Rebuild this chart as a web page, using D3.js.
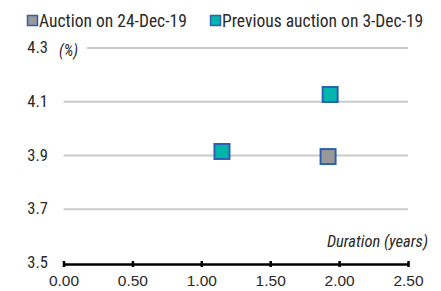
<!DOCTYPE html>
<html><head><meta charset="utf-8">
<script src="https://cdn.jsdelivr.net/npm/d3@7"></script>
<style>
body{margin:0;background:#fff;}
svg{display:block;font-family:"Liberation Sans Narrow","Arial Narrow","Roboto Condensed","Liberation Sans",sans-serif;}
</style></head>
<body>
<svg id="chart" width="441" height="291"></svg>
<script>
const seriesNames = ["Auction on 24-Dec-19", "Previous auction on 3-Dec-19"];
const seriesColors = ["#999999", "#00b5ad"];
const currentDuration = [1.92];
const currentYield = [3.896];
const previousDuration = [1.15, 1.935];
const previousYield = [3.915, 4.127];
const xTicks = [0, 0.5, 1.0, 1.5, 2.0, 2.5];
const yTicks = [3.5, 3.7, 3.9, 4.1, 4.3];

const textColor = "#2a2a2a";
const svg = d3.select("#chart");
const x = d3.scaleLinear().domain([0, 2.5]).range([63.5, 408]);
const y = d3.scaleLinear().domain([3.5, 4.3]).range([263, 48]);

// gridlines
svg.append("g").selectAll("line").data(yTicks.filter(d => d > 3.5)).join("line")
  .attr("x1", d => d === 4.3 ? 87 : x(0)).attr("x2", x(2.5))
  .attr("y1", d => y(d)).attr("y2", d => y(d))
  .attr("stroke", "#c8cbca").attr("stroke-width", 2);

// y labels
svg.append("g").selectAll("text").data(yTicks).join("text")
  .attr("x", 48).attr("y", d => y(d) + 5)
  .attr("text-anchor", "end").attr("font-size", 16.5).attr("fill", textColor)
  .text(d => d.toFixed(1));

svg.append("text").attr("x", 59).attr("y", 56).attr("font-size", 15.5)
  .attr("font-style", "italic").attr("fill", textColor).text("(%)");

// x axis
const xAxis = d3.axisBottom(x).tickValues(xTicks).tickFormat(d3.format(".2f")).tickSize(4).tickSizeOuter(0);
const gx = svg.append("g").attr("transform", `translate(0,${264})`).call(xAxis);
gx.select(".domain").attr("stroke", "#000").attr("stroke-width", 2.5);
gx.selectAll(".tick line").attr("stroke", "#000").attr("stroke-width", 2.5).attr("y1", -3).attr("y2", 3);
gx.selectAll(".tick text").attr("font-size", 15.5).attr("fill", textColor)
  .attr("font-family", "inherit").attr("dy", null).attr("y", 22);

svg.append("text").attr("x", 428).attr("y", 247).attr("text-anchor", "end")
  .attr("font-size", 16.5).attr("font-style", "italic").attr("fill", textColor).text("Duration (years)");

// points
const s = 15;
function drawPts(xs, ys, color) {
  svg.append("g").selectAll("rect").data(xs.map((d, i) => [d, ys[i]])).join("rect")
    .attr("x", d => x(d[0]) - s / 2).attr("y", d => y(d[1]) - s / 2)
    .attr("width", s).attr("height", s)
    .attr("fill", color).attr("stroke", "#2f5fb0").attr("stroke-width", 2);
}
drawPts(currentDuration, currentYield, seriesColors[0]);
drawPts(previousDuration, previousYield, seriesColors[1]);

// legend
const legX = [27, 210];
const lg = svg.append("g").selectAll("g").data(seriesNames).join("g")
  .attr("transform", (d, i) => `translate(${legX[i]},15)`);
lg.append("rect").attr("x", 0.5).attr("y", 0.5).attr("width", 10).attr("height", 10)
  .attr("fill", (d, i) => seriesColors[i]).attr("stroke", "#2f5fb0").attr("stroke-width", 1.5);
lg.append("text").attr("x", 12).attr("y", 11.5).attr("font-size", 17.5).attr("fill", textColor).text(d => d);
</script>
</body></html>
